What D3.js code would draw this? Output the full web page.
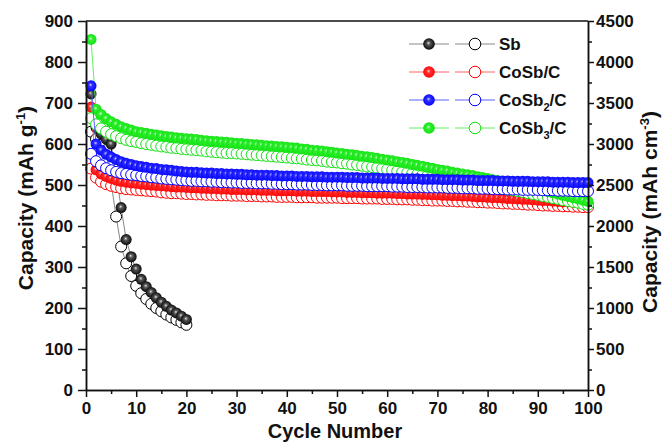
<!DOCTYPE html>
<html>
<head>
<meta charset="utf-8">
<script src="https://cdn.jsdelivr.net/npm/d3@7"></script>
<style>
body { margin: 0; background: #fff; }
text { font-family: "Liberation Sans", Arial, sans-serif; font-weight: bold; fill: #111; }
</style>
</head>
<body>
<div id="plot"></div>
<script>
// cycle numbers
var cycles = d3.range(1, 101)
var sbCycles = d3.range(1, 21)

// Sb (only 20 cycles)
var sbFilled = [722, 640, 625, 612, 600, 525, 445, 367, 325, 295, 270, 252, 238, 225, 214, 204, 195, 188, 180, 172]
var sbOpen = [630, 612, 598, 585, 505, 423, 350, 309, 278, 254, 236, 222, 210, 200, 192, 184, 177, 171, 165, 159]

// CoSb/C
var cosbFilled = [
    690, 537, 527, 521, 516, 512, 509, 507, 505, 504,
    502, 501, 500, 499, 498, 497, 496, 495, 495, 494,
    493, 493, 492, 492, 491, 491, 490, 490, 489, 489,
    489, 488, 488, 488, 487, 487, 487, 486, 486, 486,
    486, 485, 485, 485, 484, 484, 484, 484, 483, 483,
    483, 482, 482, 482, 481, 481, 481, 480, 480, 480,
    480, 479, 479, 478, 478, 478, 477, 477, 476, 476,
    475, 475, 474, 474, 473, 473, 472, 471, 471, 470,
    469, 469, 468, 467, 467, 466, 465, 465, 464, 463,
    462, 462, 461, 460, 459, 459, 458, 457, 456, 455]
var cosbOpen = [
    540, 518, 508, 502, 498, 495, 492, 490, 489, 488,
    487, 486, 485, 484, 482, 481, 480, 480, 479, 478,
    478, 477, 477, 476, 476, 475, 475, 475, 474, 474,
    474, 473, 473, 473, 472, 472, 472, 471, 471, 471,
    471, 470, 470, 470, 470, 469, 469, 469, 469, 469,
    468, 468, 468, 468, 467, 467, 467, 467, 466, 466,
    466, 465, 465, 465, 464, 464, 463, 463, 462, 462,
    462, 461, 461, 460, 460, 459, 459, 458, 458, 457,
    457, 456, 455, 455, 454, 454, 453, 452, 452, 451,
    450, 450, 449, 449, 448, 448, 447, 447, 446, 446]

// CoSb2/C
var cosb2Filled = [
    742, 600, 585, 575, 568, 562, 557, 553, 550, 547,
    545, 543, 541, 540, 538, 537, 536, 534, 533, 532,
    531, 531, 530, 529, 529, 528, 528, 527, 527, 526,
    526, 525, 525, 524, 524, 524, 523, 523, 522, 522,
    522, 521, 521, 521, 520, 520, 520, 519, 519, 519,
    519, 518, 518, 518, 517, 517, 517, 517, 516, 516,
    516, 516, 515, 515, 515, 515, 514, 514, 514, 514,
    513, 513, 513, 513, 512, 512, 512, 511, 511, 511,
    511, 510, 510, 510, 509, 509, 509, 509, 508, 508,
    508, 508, 507, 507, 507, 507, 506, 506, 506, 506]
var cosb2Open = [
    576, 558, 548, 541, 536, 532, 529, 527, 525, 524,
    522, 521, 519, 518, 516, 515, 514, 513, 512, 511,
    510, 510, 509, 509, 508, 508, 507, 507, 506, 506,
    505, 505, 505, 504, 504, 504, 503, 503, 502, 502,
    502, 501, 501, 501, 500, 500, 500, 499, 499, 499,
    499, 498, 498, 498, 498, 497, 497, 497, 497, 497,
    496, 496, 496, 495, 495, 495, 495, 494, 494, 494,
    494, 493, 493, 493, 492, 492, 492, 491, 491, 491,
    490, 490, 490, 489, 489, 489, 488, 488, 488, 488,
    487, 487, 487, 486, 486, 486, 485, 485, 485, 485]

// CoSb3/C
var cosb3Filled = [
    855, 685, 672, 662, 654, 648, 642, 638, 634, 630,
    628, 626, 624, 622, 620, 618, 617, 615, 614, 613,
    612, 611, 609, 608, 607, 606, 605, 604, 603, 602,
    601, 600, 599, 598, 597, 596, 595, 594, 593, 592,
    591, 590, 588, 587, 585, 584, 583, 581, 580, 578,
    577, 575, 574, 572, 570, 569, 567, 565, 563, 561,
    559, 557, 555, 553, 550, 548, 546, 543, 541, 538,
    536, 534, 531, 529, 527, 525, 523, 520, 518, 516,
    513, 511, 508, 506, 503, 501, 498, 495, 493, 490,
    487, 484, 481, 478, 475, 472, 469, 466, 463, 460]
var cosb3Open = [
    663, 648, 638, 630, 624, 619, 614, 610, 607, 605,
    602, 600, 598, 596, 594, 593, 591, 590, 588, 587,
    586, 585, 584, 582, 581, 580, 579, 578, 578, 577,
    576, 575, 574, 573, 572, 571, 570, 569, 568, 567,
    566, 565, 564, 562, 561, 560, 559, 557, 556, 555,
    553, 552, 550, 549, 547, 545, 544, 542, 540, 538,
    536, 534, 532, 530, 528, 526, 524, 522, 520, 518,
    516, 514, 512, 510, 508, 506, 504, 502, 500, 498,
    496, 494, 492, 489, 487, 485, 483, 480, 478, 476,
    473, 471, 468, 466, 463, 461, 459, 457, 454, 452]

// tick values
var xTicks = d3.range(0, 101, 10)
var yTicks = d3.range(0, 901, 100)
var y2Ticks = d3.range(0, 4501, 500)

// legend entries
var legendNames = [["Sb"], ["CoSb/C"], ["CoSb", "2", "/C"], ["CoSb", "3", "/C"]]

createVisualization()

function createVisualization() {
    var w = 662
    var h = 442
    var left = 86, right = 588, top = 21, bottom = 390
    var r = 5.5

    var svg = d3.select("#plot").append("svg")
        .attr("width", w).attr("height", h)

    var xScale = d3.scaleLinear().domain([0, 100]).range([left, right])
    var yScale = d3.scaleLinear().domain([0, 900]).range([bottom, top])
    var y2Scale = d3.scaleLinear().domain([0, 4500]).range([bottom, top])

    // series styles (colour, line colour, ball gradient colours)
    var series = [
        { id: "sb", x: sbCycles, filled: sbFilled, open: sbOpen, color: "#000", line: "#888", hi: "#e0e0e0", mid: "#555" },
        { id: "red", x: cycles, filled: cosbFilled, open: cosbOpen, color: "#ff0000", line: "#ff6060", hi: "#ffd0d0", mid: "#ff3030" },
        { id: "green", x: cycles, filled: cosb3Filled, open: cosb3Open, color: "#10e010", line: "#60f060", hi: "#d8ffd8", mid: "#30f030" },
        { id: "blue", x: cycles, filled: cosb2Filled, open: cosb2Open, color: "#0000ff", line: "#6060ff", hi: "#d0d0ff", mid: "#3030ff" }
    ]

    // sphere gradients
    var defs = svg.append("defs")
    series.forEach(function(s) {
        var g = defs.append("radialGradient").attr("id", "ball-" + s.id)
            .attr("cx", "50%").attr("cy", "50%").attr("r", "55%")
            .attr("fx", "45%").attr("fy", "40%")
        g.append("stop").attr("offset", "0%").attr("stop-color", s.hi)
        g.append("stop").attr("offset", "30%").attr("stop-color", s.mid)
        g.append("stop").attr("offset", "100%").attr("stop-color", s.color)
    })

    var line = d3.line()
        .x(function(d) { return xScale(d[0]) })
        .y(function(d) { return yScale(d[1]) })

    // draw each series: lines, open circles, filled balls
    var order = ["sb", "red", "green", "blue"]
    order.forEach(function(id) {
        var s = series.filter(function(d) { return d.id == id })[0]
        var openPts = s.x.map(function(c, i) { return [c, s.open[i]] })
        var fillPts = s.x.map(function(c, i) { return [c, s.filled[i]] })
        var g = svg.append("g")
        g.append("path").datum(openPts).attr("d", line)
            .attr("fill", "none").attr("stroke", s.line).attr("stroke-width", 1)
        g.append("path").datum(fillPts).attr("d", line)
            .attr("fill", "none").attr("stroke", s.line).attr("stroke-width", 1)
        g.selectAll("circle.open").data(openPts).enter().append("circle")
            .attr("class", "open")
            .attr("cx", function(d) { return xScale(d[0]) })
            .attr("cy", function(d) { return yScale(d[1]) })
            .attr("r", r)
            .attr("fill", "#fff").attr("stroke", s.color).attr("stroke-width", 1)
        g.selectAll("circle.fill").data(fillPts).enter().append("circle")
            .attr("class", "fill")
            .attr("cx", function(d) { return xScale(d[0]) })
            .attr("cy", function(d) { return yScale(d[1]) })
            .attr("r", r)
            .attr("fill", "url(#ball-" + s.id + ")")
    })

    // axes
    var fs = "17px"
    svg.append("g").attr("transform", "translate(0," + bottom + ")")
        .call(d3.axisBottom(xScale).tickValues(xTicks).tickSize(7).tickPadding(5).tickSizeOuter(0))
    svg.append("g").attr("transform", "translate(0," + bottom + ")")
        .call(d3.axisBottom(xScale).tickValues(d3.range(5, 100, 10)).tickSize(4).tickFormat("").tickSizeOuter(0))

    svg.append("g").attr("transform", "translate(" + left + ",0)")
        .call(d3.axisLeft(yScale).tickValues(yTicks).tickSize(8).tickPadding(5).tickSizeOuter(0))
    svg.append("g").attr("transform", "translate(" + left + ",0)")
        .call(d3.axisLeft(yScale).tickValues(d3.range(50, 900, 100)).tickSize(4).tickFormat("").tickSizeOuter(0))

    svg.append("g").attr("transform", "translate(" + right + ",0)")
        .call(d3.axisRight(y2Scale).tickValues(y2Ticks).tickSize(6).tickPadding(2)
            .tickFormat(d3.format("d")).tickSizeOuter(0))
    svg.append("g").attr("transform", "translate(" + right + ",0)")
        .call(d3.axisRight(y2Scale).tickValues(d3.range(250, 4500, 500)).tickSize(4).tickFormat("").tickSizeOuter(0))

    svg.selectAll(".domain, .tick line").attr("stroke", "#111").attr("stroke-width", 1.5)
    svg.selectAll(".tick text").style("font-size", fs).attr("fill", "#111")

    // top frame line
    svg.append("line")
        .attr("x1", left).attr("x2", right).attr("y1", top).attr("y2", top)
        .attr("stroke", "#111").attr("stroke-width", 1.5)

    // axis titles
    svg.append("text")
        .attr("text-anchor", "middle")
        .attr("transform", "translate(" + ((left + right) / 2 - 2) + ", 438)")
        .style("font-size", "20px")
        .text("Cycle Number")

    var t1 = svg.append("text")
        .attr("text-anchor", "middle")
        .attr("transform", "translate(33, 198) rotate(-90)")
        .style("font-size", "21px")
    t1.append("tspan").text("Capacity (mAh g")
    t1.append("tspan").attr("dy", -8).style("font-size", "13px").text("-1")
    t1.append("tspan").attr("dy", 8).text(")")

    var t2 = svg.append("text")
        .attr("text-anchor", "middle")
        .attr("transform", "translate(657, 212) rotate(-90)")
        .style("font-size", "21px")
    t2.append("tspan").text("Capacity (mAh cm")
    t2.append("tspan").attr("dy", -8).style("font-size", "13px").text("-3")
    t2.append("tspan").attr("dy", 8).text(")")

    // legend
    var legendIds = ["sb", "red", "blue", "green"]
    legendIds.forEach(function(id, i) {
        var s = series.filter(function(d) { return d.id == id })[0]
        var ly = 44 + i * 28
        var lg = svg.append("g")
        lg.append("line").attr("x1", 409).attr("x2", 449).attr("y1", ly).attr("y2", ly)
            .attr("stroke", s.line).attr("stroke-width", 1)
        lg.append("line").attr("x1", 455).attr("x2", 495).attr("y1", ly).attr("y2", ly)
            .attr("stroke", s.line).attr("stroke-width", 1)
        lg.append("circle").attr("cx", 429).attr("cy", ly).attr("r", 5.8)
            .attr("fill", "url(#ball-" + s.id + ")")
        lg.append("circle").attr("cx", 475).attr("cy", ly).attr("r", 5.8)
            .attr("fill", "#fff").attr("stroke", s.color).attr("stroke-width", 1)
        var parts = legendNames[i]
        var tx = lg.append("text").attr("x", 499).attr("y", ly + 6).style("font-size", "17px")
        tx.append("tspan").text(parts[0])
        if (parts.length > 1) {
            tx.append("tspan").attr("dy", 5).style("font-size", "11px").text(parts[1])
            tx.append("tspan").attr("dy", -5).text(parts[2])
        }
    })
}
</script>
</body>
</html>
